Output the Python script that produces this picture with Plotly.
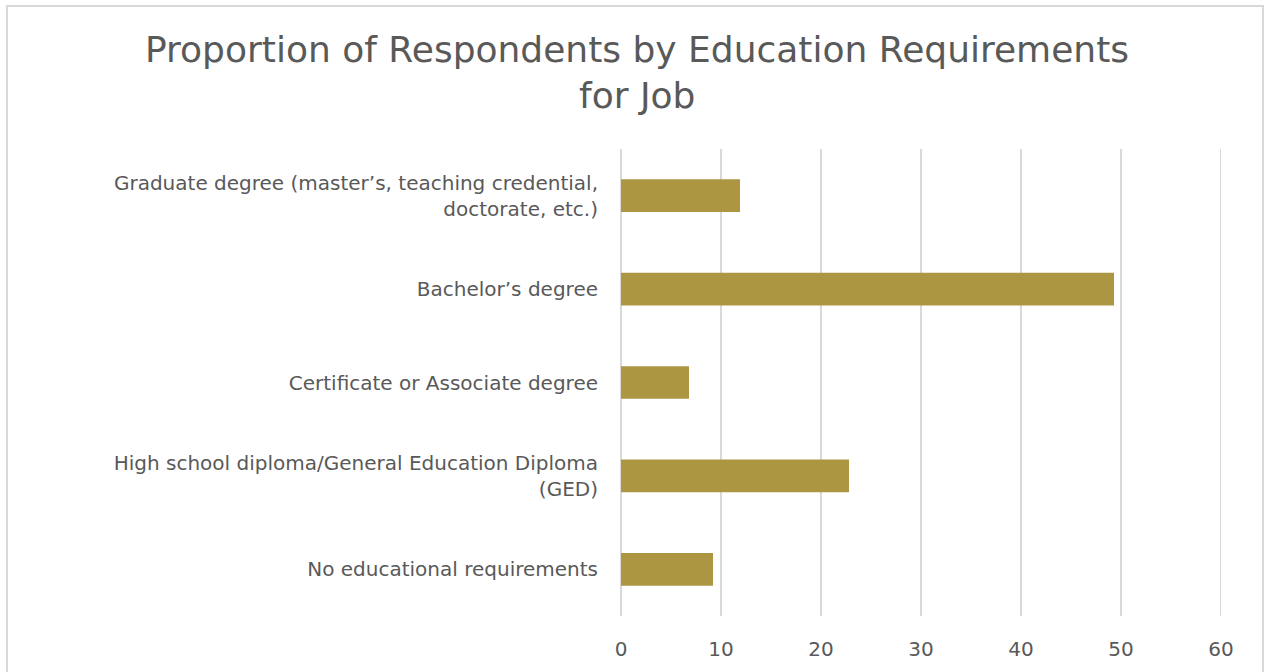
import plotly.graph_objects as go

# Education requirement categories (top to bottom as drawn)
categories = [
    "Graduate degree (master\u2019s, teaching credential,<br>doctorate, etc.)",
    "Bachelor\u2019s degree",
    "Certificate or Associate degree",
    "High school diploma/General Education Diploma<br>(GED)",
    "No educational requirements",
]
# Proportion of respondents (%)
values = [11.9, 49.3, 6.8, 22.8, 9.2]
x_ticks = [0, 10, 20, 30, 40, 50, 60]
title_lines = ["Proportion of Respondents by Education Requirements", "for Job"]

TEXT = "#595959"
GRID = "#D9D9D9"
BAR = "#AD9642"
FONT = "DejaVu Sans"

W, H = 1265, 672
ML, MR, MT, MB = 621, 44, 149, 56
pw = W - ML - MR
ph = H - MT - MB


def px_x(x):
    return (x - ML) / pw


def px_y(y):
    return 1 - (y - MT) / ph


fig = go.Figure(
    go.Bar(
        x=values[::-1],
        y=categories[::-1],
        orientation="h",
        marker=dict(color=BAR, line=dict(width=0)),
        width=0.35,
        hoverinfo="x+y",
    )
)

annotations = [
    dict(
        text=line,
        xref="paper",
        yref="paper",
        x=px_x(637),
        y=px_y(cy),
        xanchor="center",
        yanchor="middle",
        showarrow=False,
        font=dict(family=FONT, size=36, color=TEXT),
    )
    for line, cy in zip(title_lines, [50, 95])
]

shapes = [
    # chart-area border
    dict(
        type="rect",
        xref="paper",
        yref="paper",
        x0=px_x(7),
        x1=px_x(1263),
        y0=px_y(H + 5),
        y1=px_y(6),
        line=dict(color=GRID, width=2),
        fillcolor="rgba(0,0,0,0)",
        layer="below",
    ),
    # gridline at the axis maximum (plotly skips the one on the plot edge)
    dict(
        type="line",
        xref="x",
        yref="paper",
        x0=x_ticks[-1],
        x1=x_ticks[-1],
        y0=0,
        y1=1,
        line=dict(color=GRID, width=2),
        layer="below",
    ),
]

fig.update_layout(
    width=W,
    height=H,
    margin=dict(l=ML, r=MR, t=MT, b=MB, autoexpand=False),
    paper_bgcolor="white",
    plot_bgcolor="white",
    showlegend=False,
    font=dict(family=FONT, color=TEXT, size=20),
    xaxis=dict(
        range=[0, 60],
        tickvals=x_ticks,
        showgrid=True,
        gridcolor=GRID,
        gridwidth=2,
        zeroline=True,
        zerolinecolor=GRID,
        zerolinewidth=2,
        showline=False,
        ticks="",
        automargin=False,
        ticklabelstandoff=19,
        tickfont=dict(size=20, color=TEXT),
    ),
    yaxis=dict(
        categoryorder="array",
        categoryarray=categories[::-1],
        showgrid=False,
        zeroline=False,
        showline=False,
        ticks="",
        automargin=False,
        ticklabelstandoff=22,
        tickfont=dict(size=20, color=TEXT),
    ),
    annotations=annotations,
    shapes=shapes,
)

fig.write_html("out.html")
